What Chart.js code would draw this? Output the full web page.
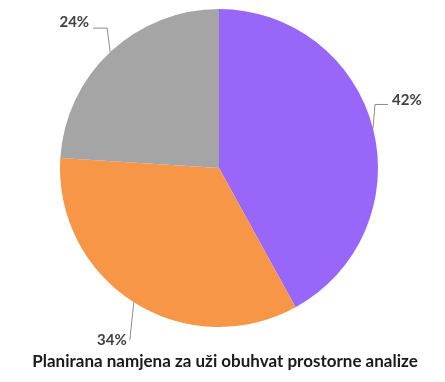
<!DOCTYPE html>
<html>
<head>
<meta charset="utf-8">
<script src="https://cdn.jsdelivr.net/npm/chart.js@4/dist/chart.umd.min.js"></script>
<style>
  html, body { margin: 0; padding: 0; background: #fff; }
  #wrap { width: 445px; height: 382px; }
</style>
</head>
<body>
<div id="wrap"><canvas id="pieChart" width="445" height="382"></canvas></div>
<script>
const shares = [42, 34, 24];
const sliceColors = ['#9966FA', '#F79646', '#A5A5A5'];
const chartTitle = 'Planirana namjena za uži obuhvat prostorne analize';

// leader line per slice: elbow offset from the arc edge, horizontal run, text offset
const leaders = [
    { ex: 2, ey: -24, run: 13, tx: 4, ty: -4, align: 'left' },
    { ex: -4, ey: 38, run: 0, tx: -3, ty: 0, align: 'right' },
    { ex: -3, ey: -24, run: -14, tx: -4, ty: -6, align: 'right' }
];

const leaderLabels = {
    id: 'leaderLabels',
    afterDatasetsDraw(chart) {
        const ctx = chart.ctx;
        const meta = chart.getDatasetMeta(0);
        const total = shares.reduce((a, b) => a + b, 0);
        ctx.save();
        meta.data.forEach((arc, i) => {
            const p = arc.getProps(['x', 'y', 'startAngle', 'endAngle', 'outerRadius'], true);
            const mid = (p.startAngle + p.endAngle) / 2;
            const ax = p.x + Math.cos(mid) * p.outerRadius;
            const ay = p.y + Math.sin(mid) * p.outerRadius;
            const l = leaders[i];
            const bx = ax + l.ex, by = ay + l.ey;
            const cx = bx + l.run;
            ctx.strokeStyle = '#8c8c8c';
            ctx.lineWidth = 1;
            ctx.beginPath();
            ctx.moveTo(ax, ay);
            ctx.lineTo(bx, by);
            ctx.lineTo(cx, by);
            ctx.stroke();
            ctx.fillStyle = '#404040';
            ctx.font = 'bold 15px Lato';
            ctx.textAlign = l.align;
            ctx.textBaseline = 'middle';
            ctx.fillText(Math.round(shares[i] / total * 100) + '%', cx + l.tx, by + l.ty);
        });
        ctx.restore();
    }
};

// caption under the pie, a little right of the pie's centre line
const bottomCaption = {
    id: 'bottomCaption',
    afterDraw(chart) {
        const ctx = chart.ctx;
        const area = chart.chartArea;
        ctx.save();
        ctx.fillStyle = '#1a1a1a';
        ctx.font = 'bold 17px Lato';
        ctx.textAlign = 'center';
        ctx.textBaseline = 'middle';
        ctx.fillText(chartTitle, (area.left + area.right) / 2 + 6, area.bottom + 35);
        ctx.restore();
    }
};

const piectx = document.getElementById('pieChart').getContext('2d');
const myPieChart = new Chart(piectx, {
    type: 'pie',
    data: {
        labels: ['1', '2', '3'],
        datasets: [{
            data: shares,
            backgroundColor: sliceColors,
            borderWidth: 0
        }]
    },
    options: {
        responsive: false,
        animation: false,
        layout: {
            padding: { top: 9, left: 60, right: 67, bottom: 55 }
        },
        plugins: {
            legend: { display: false },
            tooltip: { enabled: false },
            title: { display: false }
        }
    },
    plugins: [leaderLabels, bottomCaption]
});
</script>
</body>
</html>
